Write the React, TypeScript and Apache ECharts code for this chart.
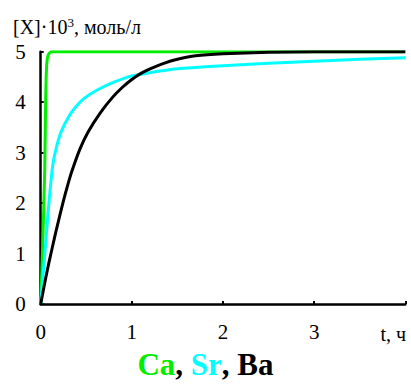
import React, { useEffect, useRef } from "react";
import * as echarts from "echarts";

const caT = [0, 0.025, 0.044, 0.05, 0.055, 0.06, 0.065, 0.072, 0.08, 0.09, 0.1, 0.12, 0.5, 1, 2, 3, 4];
const caV = [0, 1.33, 2.65, 3.4, 4.1, 4.5, 4.72, 4.85, 4.92, 4.96, 4.98, 5, 5, 5, 5, 5, 5];

const srT = [0, 0.03, 0.06, 0.09, 0.116, 0.135, 0.17, 0.226, 0.32, 0.4, 0.48, 0.63, 0.81, 1.0, 1.18, 1.5, 2, 2.5, 3, 3.5, 4];
const srV = [0, 0.67, 1.33, 2.0, 2.5, 2.78, 3.09, 3.42, 3.75, 3.94, 4.08, 4.25, 4.4, 4.52, 4.58, 4.66, 4.72, 4.77, 4.81, 4.85, 4.88];

const baT = [0, 0.05, 0.09, 0.165, 0.25, 0.3, 0.34, 0.43, 0.52, 0.65, 0.79, 0.9, 1.0, 1.1, 1.2, 1.35, 1.5, 1.7, 2.0, 2.5, 3, 3.5, 4];
const baV = [0, 0.47, 0.82, 1.42, 2.05, 2.38, 2.62, 3.07, 3.41, 3.78, 4.1, 4.3, 4.45, 4.57, 4.66, 4.77, 4.85, 4.92, 4.96, 4.99, 5, 5, 5];

const xTicks = ["0", "1", "2", "3", ""];
const yTicks = ["0", "1", "2", "3", "4", "5"];

const FONT = "Liberation Serif";

const pairs = (t: number[], v: number[]) => t.map((x, i) => [x, v[i]]);

export default function App() {
  const ref = useRef<HTMLDivElement>(null);
  useEffect(() => {
    if (!ref.current) return;
    const chart = echarts.init(ref.current, undefined, { renderer: "svg" });
    chart.setOption({
      animation: false,
      backgroundColor: "#ffffff",
      textStyle: { fontFamily: FONT },
      grid: { left: 40.7, right: 5.7, top: 51.7, bottom: 81, containLabel: false },
      xAxis: {
        type: "value",
        min: 0,
        max: 4,
        interval: 1,
        axisLine: { show: true, lineStyle: { color: "#000", width: 2.5 } },
        axisTick: { show: true, inside: true, length: 3, lineStyle: { color: "#000", width: 2 } },
        splitLine: { show: false },
        axisLabel: {
          color: "#000",
          fontFamily: FONT,
          fontSize: 21,
          margin: 17,
          formatter: (v: number) => xTicks[Math.round(v)] ?? "",
        },
      },
      yAxis: {
        type: "value",
        min: 0,
        max: 5,
        interval: 1,
        axisLine: { show: true, lineStyle: { color: "#000", width: 2.5 } },
        axisTick: { show: true, inside: true, length: 3, lineStyle: { color: "#000", width: 2 } },
        splitLine: { show: false },
        axisLabel: {
          color: "#000",
          fontFamily: FONT,
          fontSize: 21,
          margin: 15,
          formatter: (v: number) => yTicks[Math.round(v)] ?? "",
        },
      },
      title: {
        left: "center",
        top: 344,
        text: "{ca|Ca}{k|, }{sr|Sr}{k|, Ba}",
        textStyle: {
          fontFamily: FONT,
          rich: {
            ca: { color: "#00ee00", fontFamily: FONT, fontWeight: "bold", fontSize: 31 },
            sr: { color: "#00ffff", fontFamily: FONT, fontWeight: "bold", fontSize: 31 },
            k: { color: "#000", fontFamily: FONT, fontWeight: "bold", fontSize: 31 },
          },
        },
      },
      graphic: [
        {
          type: "text",
          left: 13,
          top: 16,
          style: {
            text: "{a|[X]·10}{s|3}{a|, моль/л}",
            fontFamily: FONT,
            rich: {
              a: { fontFamily: FONT, fontSize: 20, fill: "#000", verticalAlign: "bottom" },
              s: { fontFamily: FONT, fontSize: 13, fill: "#000", verticalAlign: "top", padding: [0, 0, 8, 0] },
            },
          },
        },
        {
          type: "text",
          right: 5,
          top: 324,
          style: { text: "t, ч", fontFamily: FONT, fontSize: 20, fill: "#000" },
        },
      ],
      series: [
        {
          type: "line",
          data: pairs(caT, caV),
          showSymbol: false,
          smooth: 0.12,
          lineStyle: { color: "#00ee00", width: 3 },
          z: 2,
        },
        {
          type: "line",
          data: pairs(srT, srV),
          showSymbol: false,
          smooth: 0.12,
          lineStyle: { color: "#00ffff", width: 3 },
          z: 3,
        },
        {
          type: "line",
          data: pairs(baT, baV),
          showSymbol: false,
          smooth: 0.12,
          lineStyle: { color: "#000000", width: 3 },
          z: 4,
        },
      ],
    });
    return () => chart.dispose();
  }, []);
  return <div ref={ref} style={{ position: "fixed", left: 0, top: 0, width: 411, height: 385 }} />;
}
